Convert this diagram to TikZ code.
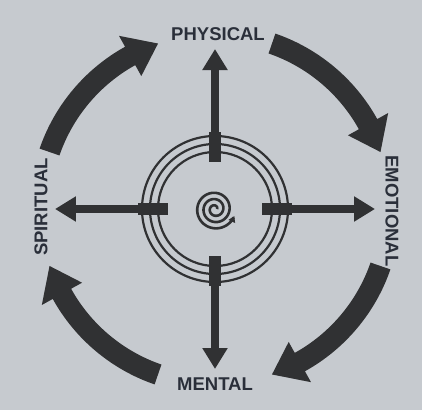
\documentclass[tikz,border=0pt]{standalone}
\usepackage{fontspec}
\setmainfont{Liberation Sans}
\usetikzlibrary{arrows.meta}
\definecolor{paper}{HTML}{C6CACF}
\definecolor{ink}{HTML}{303133}
\definecolor{txt}{HTML}{2A2F3A}
\tikzset{
  lbl/.style={text=txt, font=\fontsize{18.5}{20}\selectfont\bfseries, inner sep=0pt},
  ring/.style={draw=ink, line width=2.2pt},
  ray/.style={draw=ink, line width=8pt, -{Triangle[width=24pt,length=21pt]}},
  bar/.style={fill=ink},
  curv/.style={fill=ink}
}
\begin{document}
\begin{tikzpicture}[x=1pt,y=1pt]
\fill[paper] (-215,-201) rectangle (207,209);
\useasboundingbox (-215,-201) rectangle (207,209);
\coordinate (c) at (0,0);
% rings
\foreach \r in {57,65,73} \draw[ring] (c) circle[radius=\r];
% bars across rings and rays
\foreach \a/\n in {90/up,0/right,270/down,180/left}{
  \fill[bar] (c) ++(\a:47) ++(\a+90:6) -- ++(\a:30) -- ++(\a-90:12) -- ++(\a+180:30) -- cycle;
  \coordinate (s\n) at (\a:60);
  \coordinate (t\n) at (\a:160);
  \draw[ray] (s\n) -- (t\n);
}
% curved arrows (clockwise)
\def\R{175}\def\w{10.5}\def\H{23}
\foreach \m in {45,-45,-135,135}{
  \pgfmathsetmacro{\s}{\m+26}
  \pgfmathsetmacro{\e}{\m-26}
  \pgfmathsetmacro{\h}{\m-16}
  \fill[curv] (\s:\R+\w) arc[start angle=\s, end angle=\h, radius=\R+\w]
     -- (\h:\R+\H) -- (\e:\R) -- (\h:\R-\H) -- (\h:\R-\w)
     arc[start angle=\h, end angle=\s, radius=\R-\w] -- cycle;
}
% spiral
\draw[ink, line width=2.6pt, -{Triangle[width=7pt,length=6pt]}]
  plot[domain=0:1060, samples=240, variable=\t]
  ({(2+6.3*\t/360)*cos(\t)}, {(2+6.3*\t/360)*sin(\t)});
% labels
\node[lbl] (phys) at (3,175) {PHYSICAL};
\node[lbl, rotate=-90] (emo) at (177,-2) {EMOTIONAL};
\node[lbl] (ment) at (0,-175) {MENTAL};
\node[lbl, rotate=90] (spir) at (-174,2) {SPIRITUAL};
\end{tikzpicture}
\end{document}
